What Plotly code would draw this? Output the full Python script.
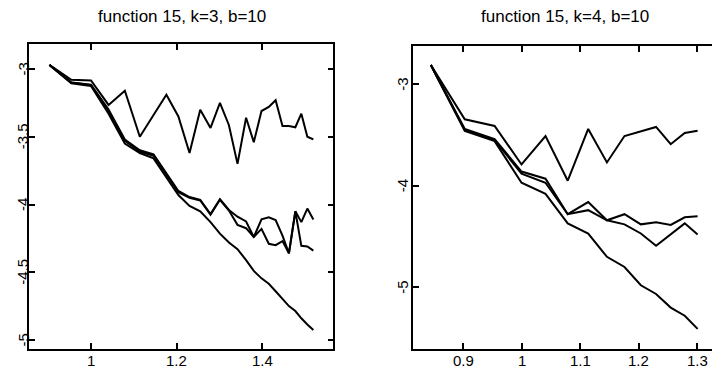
import plotly.graph_objects as go

# ---- data ----
# left panel: "function 15, k=3, b=10"
x_left = [0.903, 0.954, 1.0, 1.041, 1.079, 1.114, 1.146, 1.176, 1.204, 1.230,
          1.255, 1.279, 1.301, 1.322, 1.342, 1.362, 1.380, 1.398, 1.415, 1.431,
          1.447, 1.462, 1.477, 1.491, 1.505, 1.519]
left_a = [-2.97, -3.08, -3.085, -3.265, -3.16, -3.50, -3.34, -3.19, -3.35, -3.62,
          -3.30, -3.435, -3.25, -3.415, -3.70, -3.36, -3.54, -3.31, -3.28, -3.23,
          -3.42, -3.42, -3.43, -3.33, -3.50, -3.52]
left_b = [-2.97, -3.10, -3.115, -3.30, -3.52, -3.60, -3.63, -3.77, -3.90, -3.945,
          -3.965, -4.07, -3.96, -4.04, -4.09, -4.125, -4.24, -4.11, -4.095, -4.115,
          -4.23, -4.36, -4.05, -4.13, -4.03, -4.11]
left_c = [-2.97, -3.10, -3.12, -3.31, -3.53, -3.61, -3.64, -3.78, -3.91, -3.95,
          -3.97, -4.075, -3.965, -4.045, -4.15, -4.175, -4.24, -4.18, -4.29, -4.30,
          -4.27, -4.36, -4.05, -4.305, -4.31, -4.34]
left_d = [-2.97, -3.105, -3.125, -3.33, -3.55, -3.62, -3.66, -3.80, -3.93, -4.01,
          -4.05, -4.13, -4.215, -4.28, -4.33, -4.41, -4.49, -4.545, -4.585, -4.64,
          -4.70, -4.75, -4.786, -4.84, -4.885, -4.926]

# right panel: "function 15, k=4, b=10"
x_right = [0.845, 0.903, 0.954, 1.0, 1.041, 1.079, 1.114, 1.146, 1.176, 1.204,
           1.230, 1.255, 1.279, 1.301]
right_a = [-2.81, -3.345, -3.41, -3.79, -3.51, -3.95, -3.44, -3.77, -3.51, -3.467,
           -3.42, -3.59, -3.48, -3.457]
right_b = [-2.81, -3.44, -3.54, -3.86, -3.93, -4.28, -4.16, -4.34, -4.28, -4.38,
           -4.36, -4.385, -4.31, -4.30]
right_c = [-2.81, -3.45, -3.55, -3.88, -3.97, -4.28, -4.24, -4.34, -4.38, -4.47,
           -4.59, -4.48, -4.37, -4.48]
right_d = [-2.81, -3.46, -3.56, -3.97, -4.08, -4.37, -4.47, -4.70, -4.80, -4.98,
           -5.066, -5.20, -5.28, -5.41]

titles = ["function 15, k=3, b=10", "function 15, k=4, b=10"]
left_xticks = [1, 1.2, 1.4]
left_yticks = [-3, -3.5, -4, -4.5, -5]
right_xticks = [0.9, 1, 1.1, 1.2, 1.3]
right_yticks = [-3, -4, -5]

W, H = 712, 370
FONT = "Liberation Sans, Arial, Helvetica, sans-serif"
TICKFONT = dict(family=FONT, size=15, color="black")

fig = go.Figure()
line = dict(color="black", width=2)
for ys in (left_a, left_b, left_c, left_d):
    fig.add_trace(go.Scatter(x=x_left, y=ys, mode="lines", line=line,
                             xaxis="x", yaxis="y", showlegend=False, hoverinfo="skip"))
for ys in (right_a, right_b, right_c, right_d):
    fig.add_trace(go.Scatter(x=x_right, y=ys, mode="lines", line=line,
                             xaxis="x2", yaxis="y2", showlegend=False, hoverinfo="skip"))

def ax(**kw):
    base = dict(showgrid=False, zeroline=False, showline=True, linecolor="black",
                linewidth=1.5, ticks="inside", ticklen=6, tickwidth=1.5,
                tickcolor="black", showticklabels=False)
    base.update(kw)
    return base

def fmt(v):
    return ("%g" % v)

annotations = [
    dict(text=titles[0], x=181.5 / W, y=1 - 17 / H, xref="paper", yref="paper",
         xanchor="center", yanchor="middle", showarrow=False,
         font=dict(family=FONT, size=17, color="black")),
    dict(text=titles[1], x=565 / W, y=1 - 17 / H, xref="paper", yref="paper",
         xanchor="center", yanchor="middle", showarrow=False,
         font=dict(family=FONT, size=17, color="black")),
]
# tick labels (placed at the axis tick values)
for v in left_xticks:
    annotations.append(dict(text=fmt(v), x=v, xref="x", y=1 - 369.5 / H, yref="paper",
                            xanchor="center", yanchor="bottom", borderpad=0,
                            showarrow=False, font=TICKFONT))
for v in right_xticks:
    annotations.append(dict(text=fmt(v), x=v, xref="x2", y=1 - 369.5 / H, yref="paper",
                            xanchor="center", yanchor="bottom", borderpad=0,
                            showarrow=False, font=TICKFONT))
for v in left_yticks:
    annotations.append(dict(text=fmt(v), y=v, yref="y", x=22.5 / W, xref="paper",
                            xanchor="center", yanchor="middle", textangle=-90,
                            showarrow=False, font=TICKFONT))
for v in right_yticks:
    annotations.append(dict(text=fmt(v), y=v, yref="y2", x=402.5 / W, xref="paper",
                            xanchor="center", yanchor="middle", textangle=-90,
                            showarrow=False, font=TICKFONT))

fig.update_layout(
    width=W, height=H,
    margin=dict(l=0, r=0, t=0, b=0),
    paper_bgcolor="white", plot_bgcolor="white",
    xaxis=ax(domain=[29 / W, 333.3 / W], range=[0.8553, 1.5656], anchor="y",
             tickvals=left_xticks, mirror="ticks"),
    yaxis=ax(domain=[1 - 349 / H, 1 - 44 / H], range=[-5.0664, -2.8155], anchor="x",
             tickvals=left_yticks, mirror="ticks"),
    xaxis2=ax(domain=[413 / W, 1.0], range=[0.8145, 1.3256], anchor="y2",
              tickvals=right_xticks, mirror="ticks"),
    yaxis2=ax(domain=[1 - 349 / H, 1 - 46 / H], range=[-5.608, -2.6227], anchor="x2",
              tickvals=right_yticks, mirror=False),
    annotations=annotations,
)

fig.write_html("out.html", config={"displayModeBar": False},
               post_script="document.body.style.margin='0';document.body.style.overflow='hidden';")
